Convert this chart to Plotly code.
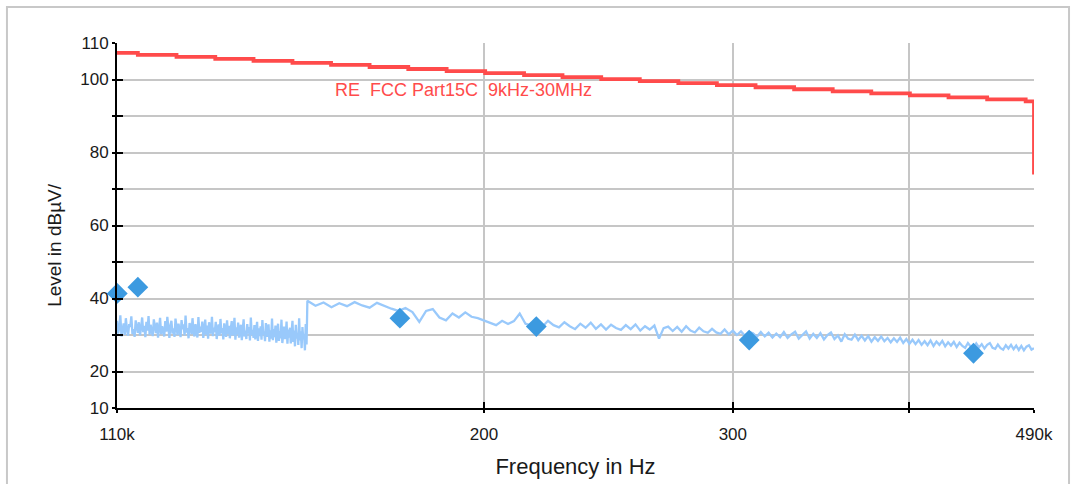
import numpy as np
import plotly.graph_objects as go

# ---------------- data ----------------
# Band A sweep (110 kHz .. 150 kHz), dense receiver steps
band_a_start_hz = 110000
band_a_step_hz = 200
band_a_level = [
    33.9, 30.4, 32.1, 35.4, 29.6, 31.8, 33.2, 30.0, 34.6, 31.5, 29.8, 33.0, 32.2, 35.1, 30.3, 31.6, 29.5, 34.0, 32.7, 30.6,
    33.5, 29.9, 31.9, 34.8, 30.8, 32.5, 29.4, 33.6, 31.2, 35.2, 30.1, 32.8, 31.0, 29.7, 34.3, 32.0, 30.5, 33.4, 29.3, 31.7,
    34.7, 30.2, 32.4, 31.1, 29.6, 33.8, 30.9, 35.0, 31.4, 29.2, 32.6, 33.9, 30.4, 31.8, 29.5, 34.5, 32.2, 30.0, 33.1, 31.3,
    29.4, 34.1, 31.6, 32.9, 29.9, 35.3, 30.7, 31.9, 29.1, 33.3, 32.4, 30.2, 34.6, 31.0, 29.6, 33.0, 31.5, 29.3, 34.9, 30.6,
    32.3, 30.9, 33.7, 29.2, 31.4, 34.2, 30.1, 32.6, 29.0, 33.5, 31.2, 30.4, 35.0, 29.7, 32.0, 30.8, 33.6, 28.9, 31.7, 32.9,
    29.8, 34.4, 30.5, 31.9, 28.8, 33.2, 31.1, 29.5, 34.0, 30.3, 32.5, 29.1, 31.6, 33.8, 29.9, 30.7, 34.7, 28.7, 32.1, 30.2,
    33.4, 29.3, 31.5, 32.8, 28.6, 30.9, 34.3, 29.6, 31.2, 28.9, 33.0, 30.4, 32.2, 28.5, 34.8, 30.0, 31.4, 29.2, 32.7, 28.8,
    30.6, 33.6, 28.4, 31.8, 29.7, 32.4, 28.7, 34.1, 30.1, 31.0, 28.3, 33.3, 29.5, 30.8, 32.9, 28.2, 31.3, 29.0, 34.5, 28.6,
    31.6, 29.4, 32.6, 27.9, 30.5, 33.1, 28.4, 31.1, 29.1, 34.2, 27.8, 30.7, 32.3, 28.9, 30.0, 33.7, 27.6, 31.5, 29.3, 32.0,
    27.7, 30.9, 33.9, 28.1, 31.2, 26.9, 32.8, 29.0, 30.4, 27.3, 34.6, 28.5, 31.0, 26.4, 32.2, 28.8, 30.3, 25.8, 33.0, 27.4,
]

# Band B sweep (150 kHz .. 490 kHz)
band_b_start_hz = 150000
band_b_step_hz = 2000
band_b_level = [
    39.4, 38.0, 38.9, 37.6, 38.7, 37.9, 39.0, 38.1, 37.5, 38.8,
    37.9, 37.2, 36.6, 37.4, 36.3, 33.6, 36.6, 37.1, 34.8, 34.0,
    35.9, 34.8, 36.2, 35.0, 34.6, 34.0, 33.2, 32.7, 33.9, 33.0,
    33.8, 35.9, 33.1, 32.6, 33.7, 32.3, 33.9, 32.7, 32.1, 33.5,
    32.4, 31.6, 33.1, 32.0, 33.4, 31.7, 32.9, 31.5, 32.8, 31.9,
    31.4, 32.7, 31.6, 32.9, 31.2, 32.4, 31.5, 32.6, 29.0, 31.9,
    32.3, 31.1, 32.2, 30.9, 32.4, 31.2, 30.7, 32.0, 31.0, 30.6,
    31.7, 30.7, 30.3, 31.5, 30.2, 31.2, 30.0, 31.0, 29.8, 30.9,
    30.5, 29.5, 30.8, 29.6, 30.6, 29.3, 30.4, 29.4, 30.8, 29.2,
    30.2, 30.9, 29.0, 30.1, 31.0, 29.0, 30.3, 29.2, 30.5, 28.8,
    30.0, 30.7, 28.9, 29.9, 28.2, 30.2, 29.0, 28.7, 30.1, 28.6,
    29.8, 28.5, 29.7, 28.2, 29.4, 28.4, 29.6, 28.3, 29.2, 28.0,
    29.1, 28.1, 29.3, 27.8, 28.9, 27.6, 28.7, 27.5, 28.6, 27.3,
    28.3, 27.2, 28.5, 27.0, 28.2, 27.3, 28.4, 26.9, 28.0, 27.1,
    28.1, 26.7, 27.9, 27.0, 26.5, 27.8, 26.8, 26.4, 27.7, 26.6,
    27.5, 26.3, 27.3, 27.8, 26.5, 26.2, 27.4, 26.4, 26.0, 27.2,
    26.3, 27.3, 26.1, 27.1, 25.9, 27.0, 25.8, 26.8, 27.2, 26.0,
    26.4,
]

# Limit line (stepped)
limit_freq_khz = [110.0, 113.8, 121.2, 129.1, 137.4, 146.4, 155.9, 166.0, 176.8, 188.2,
                  200.4, 213.5, 227.3, 242.1, 257.8, 274.5, 292.3, 311.3, 331.5, 353.0,
                  375.9, 400.3, 426.3, 454.0, 483.4, 490.0, 490.0]
limit_level = [107.3, 106.75, 106.19, 105.64, 105.08, 104.53, 103.98, 103.42, 102.87, 102.31,
               101.76, 101.21, 100.65, 100.10, 99.54, 98.99, 98.44, 97.88, 97.33, 96.77,
               96.22, 95.67, 95.11, 94.56, 94.0, 94.0, 74.0]
limit_name = "RE  FCC Part15C  9kHz-30MHz"

# Peak markers
peak_freq_khz = [110.05, 113.8, 174.4, 217.8, 308.1, 444.0]
peak_level = [41.4, 43.1, 34.6, 32.3, 28.6, 25.0]

# Axis ticks and titles
x_tickvals_hz = [110000, 200000, 300000, 400000, 490000]
x_ticktext = ["110k", "200", "300", "", "490k"]
y_tickvals = [10, 20, 30, 40, 50, 60, 70, 80, 90, 100, 110]
y_ticktext = ["10", "20", "", "40", "", "60", "", "80", "", "100", "110"]
x_title = "Frequency in Hz"
y_title = "Level in dBµV/"

# ---------------- figure ----------------
freq_a = band_a_start_hz + band_a_step_hz * np.arange(len(band_a_level))
freq_b = band_b_start_hz + band_b_step_hz * np.arange(len(band_b_level))
trace_freq = np.concatenate([freq_a, freq_b])
trace_level = list(band_a_level) + list(band_b_level)

FONT = "Liberation Sans, Arial, sans-serif"
RED = "#ff4b4b"
LIGHT_BLUE = "#99c9fb"
BLUE = "#3c9ae0"
GRID = "#c6c6c6"
TXT = "#1a1a1a"

fig = go.Figure()

fig.add_trace(go.Scatter(
    x=trace_freq, y=trace_level, mode="lines",
    line=dict(color=LIGHT_BLUE, width=2.3), hoverinfo="skip", showlegend=False,
))

fig.add_trace(go.Scatter(
    x=[f * 1000 for f in limit_freq_khz], y=limit_level, mode="lines",
    line=dict(color=RED, width=3.8, shape="hv"), name=limit_name, showlegend=False,
    cliponaxis=False,
))

fig.add_trace(go.Scatter(
    x=[f * 1000 for f in peak_freq_khz], y=peak_level, mode="markers",
    marker=dict(symbol="diamond", size=16, color=BLUE, line=dict(width=0)),
    showlegend=False, cliponaxis=False,
))

# dummy trace to activate overlay axes (inside tick marks)
fig.add_trace(go.Scatter(x=[300000], y=[None], xaxis="x2", yaxis="y2",
                         mode="lines", showlegend=False, hoverinfo="skip"))

x_range = [np.log10(110000), np.log10(490000)]

fig.add_annotation(
    x=0.2355, xref="paper", y=97.1, yref="y", xanchor="left", yanchor="middle",
    text=limit_name, showarrow=False, font=dict(family=FONT, size=18, color=RED),
)

# y-axis title (placed as rotated text)
fig.add_annotation(
    x=-0.0676, xref="paper", y=0.447, yref="paper", xanchor="center", yanchor="middle",
    text=y_title, textangle=-90, showarrow=False, font=dict(family=FONT, size=19, color=TXT),
)

# outer frame
fig.add_shape(type="rect", xref="paper", yref="paper",
              x0=-0.12, x1=1.0382, y0=-0.25, y1=1.0986,
              line=dict(color="#c8c8c8", width=2), layer="below")

fig.update_layout(
    width=1076, height=484,
    margin=dict(l=117, r=42, t=43, b=76),
    paper_bgcolor="white", plot_bgcolor="white",
    font=dict(family=FONT, color=TXT),
    xaxis=dict(
        type="log", range=x_range,
        tickvals=x_tickvals_hz, ticktext=x_ticktext,
        showgrid=True, gridcolor=GRID, gridwidth=1.6,
        showline=True, linecolor="black", linewidth=2,
        ticks="outside", ticklen=3, tickwidth=2, tickcolor="black",
        tickfont=dict(size=17, family=FONT, color=TXT),
        ticklabelstandoff=7,
        title=dict(text=x_title, font=dict(size=22, family=FONT, color=TXT), standoff=15),
        zeroline=False, automargin=False,
    ),
    yaxis=dict(
        range=[10, 110],
        tickvals=y_tickvals, ticktext=y_ticktext,
        showgrid=True, gridcolor=GRID, gridwidth=1.6,
        showline=True, linecolor="black", linewidth=2,
        ticks="outside", ticklen=3, tickwidth=2, tickcolor="black",
        tickfont=dict(size=17, family=FONT, color=TXT),
        zeroline=False, automargin=False,
    ),
    xaxis2=dict(
        type="log", range=x_range, overlaying="x", side="bottom", anchor="y2",
        tickvals=x_tickvals_hz, showticklabels=False, showgrid=False, showline=False,
        ticks="inside", ticklen=6, tickwidth=2, tickcolor="black", zeroline=False,
    ),
    yaxis2=dict(
        range=[10, 110], overlaying="y", side="left", anchor="x2",
        tickvals=y_tickvals, showticklabels=False, showgrid=False, showline=False,
        ticks="inside", ticklen=6, tickwidth=2, tickcolor="black", zeroline=False,
    ),
)

fig.write_html("out.html")
